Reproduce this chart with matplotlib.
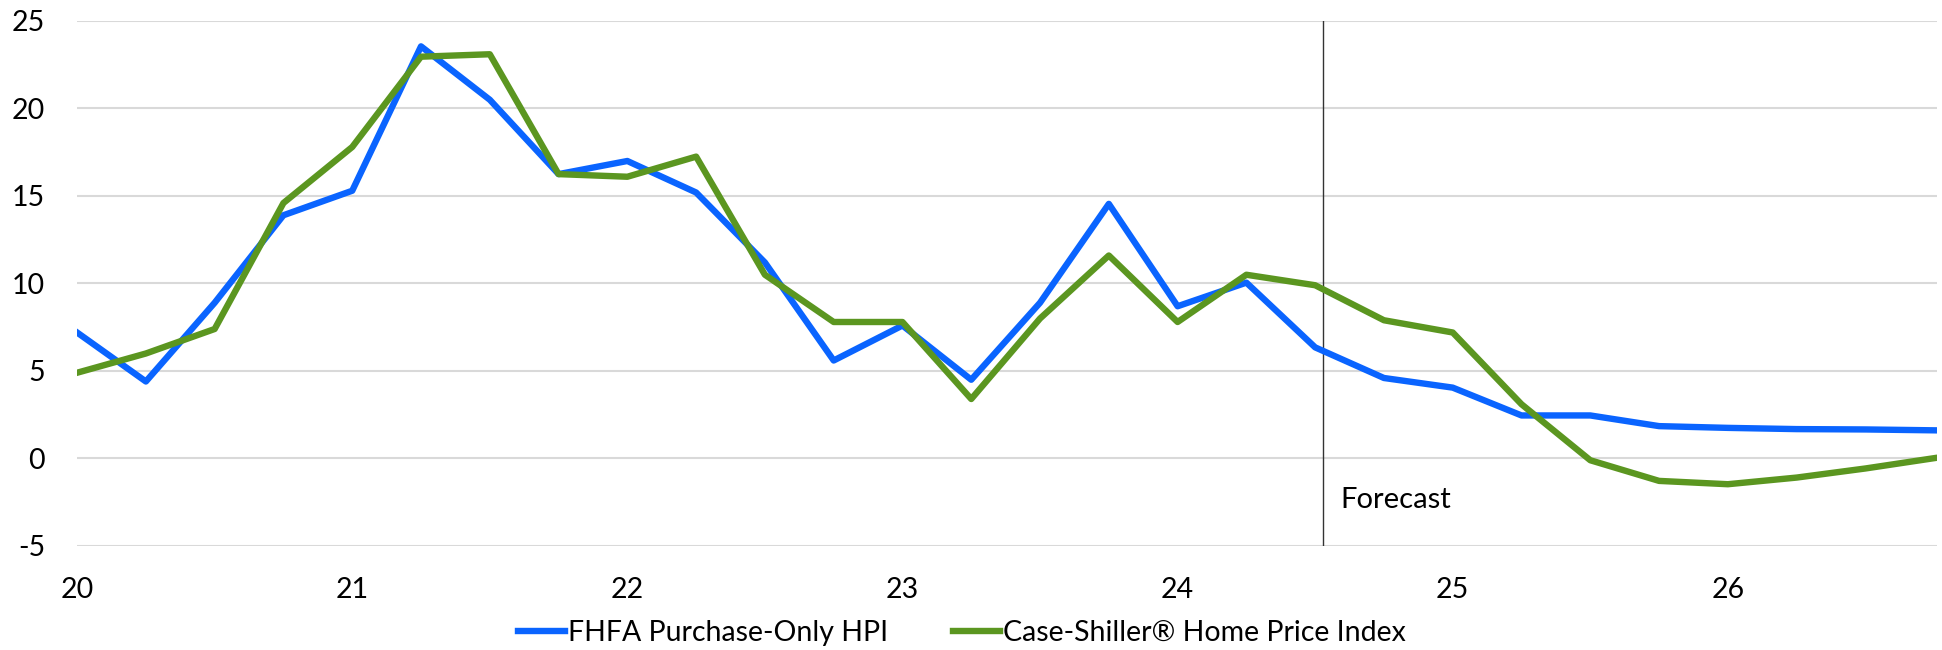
import numpy as np
import matplotlib
matplotlib.use("Agg")
import matplotlib.pyplot as plt

plt.rcParams['font.family'] = ['Lato', 'DejaVu Sans']

# quarterly points, 2020Q1 .. 2026Q4 (x in two-digit years)
quarters = np.arange(20, 26.76, 0.25)

fhfa = [7.2, 4.4, 8.9, 13.9, 15.3, 23.55, 20.5, 16.25, 17.0, 15.2,
        11.2, 5.6, 7.6, 4.5, 8.9, 14.55, 8.7, 10.05, 6.35, 4.6,
        4.05, 2.46, 2.46, 1.85, 1.75, 1.68, 1.66, 1.61]
case_shiller = [4.9, 6.0, 7.4, 14.6, 17.8, 22.96, 23.1, 16.25, 16.1, 17.25,
                10.5, 7.8, 7.8, 3.4, 8.0, 11.6, 7.8, 10.5, 9.9, 7.9,
                7.2, 3.1, -0.1, -1.28, -1.47, -1.09, -0.57, 0.02]

labels = ['FHFA Purchase-Only HPI', 'Case-Shiller\u00ae Home Price Index']
xticks = [20, 21, 22, 23, 24, 25, 26]
yticks = [-5, 0, 5, 10, 15, 20, 25]
forecast_x = 24.53

fig = plt.figure(figsize=(19.42, 6.5), dpi=100)
ax = fig.add_axes([0.0397, 0.16, 0.9577, 0.8077])

ax.plot(quarters, fhfa, color='#0a64ff', lw=4.6, label=labels[0], zorder=3)
ax.plot(quarters, case_shiller, color='#5b9620', lw=4.6, label=labels[1], zorder=4)

ax.axvline(forecast_x, ymin=0, ymax=(25.1 + 5) / 30, color='#333333', lw=1.0, zorder=2)
ax.text(forecast_x + 0.06, -2.35, 'Forecast', fontsize=21, va='center', ha='left')

ax.set_xlim(20, 26.76)
ax.set_ylim(-5, 25)
ax.set_xticks(xticks)
ax.set_xticklabels([str(t) for t in xticks])
ax.set_yticks(yticks)
ax.set_yticklabels([str(t) for t in yticks])
ax.tick_params(axis='both', length=0, labelsize=20.5)
ax.tick_params(axis='y', pad=23)
ax.tick_params(axis='x', pad=22)

ax.grid(axis='y', color='#d9d9d9', lw=1.5)
ax.set_axisbelow(True)
for s in ax.spines.values():
    s.set_visible(False)

fig.legend(loc='center', bbox_to_anchor=(962 / 1942, 1 - 633 / 650), ncol=2,
           frameon=False, fontsize=20.5, handlelength=1.65, handletextpad=0.1,
           columnspacing=2.3)

fig.savefig('out.png', dpi=100)
